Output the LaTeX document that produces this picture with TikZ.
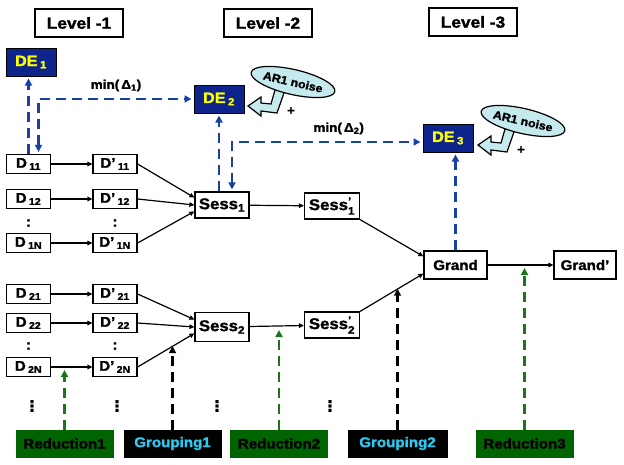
\documentclass[tikz,border=0pt]{standalone}
\usepackage{amsmath}
\usepackage{fontspec}
\setmainfont{Liberation Sans}[FakeStretch=1.08,BoldFeatures={FakeBold=1.6}]
\newfontfamily\dejavu{DejaVu Sans}[BoldFeatures={FakeBold=1.6}]
\usepackage{tikz}
\usetikzlibrary{arrows.meta,positioning,calc,shapes.geometric}
\definecolor{deblue}{RGB}{12,36,140}
\definecolor{deyellow}{RGB}{255,255,0}
\definecolor{dashblue}{RGB}{25,65,165}
\definecolor{noisecyan}{RGB}{196,234,238}
\definecolor{redgreen}{RGB}{0,100,0}
\definecolor{dashgreen}{RGB}{30,115,30}
\definecolor{grpcyan}{RGB}{45,200,240}
\newcommand{\fsz}[1]{\fontsize{#1}{#1}\selectfont\bfseries}
\tikzset{
  levelbox/.style={draw,line width=1.3pt,minimum width=88pt,minimum height=28pt,inner sep=0pt,font=\fsz{16}},
  debox/.style={draw=black,line width=1pt,fill=deblue,text=deyellow,minimum width=50pt,minimum height=28pt,inner sep=0pt,font=\fsz{15}},
  dbox/.style={draw,line width=1.2pt,minimum width=44pt,minimum height=19pt,inner sep=0pt,font=\fsz{14}},
  sessbox/.style={draw,line width=1.2pt,minimum width=54pt,minimum height=26pt,inner sep=0pt,font=\fsz{15.5}},
  grandbox/.style={draw,line width=1.2pt,minimum width=63pt,minimum height=28pt,inner sep=0pt,font=\fsz{14}},
  redbox/.style={draw=redgreen,fill=redgreen,text=black,minimum width=97pt,minimum height=27pt,inner sep=0pt,font=\fsz{14}},
  grpbox/.style={draw=black,fill=black,text=grpcyan,minimum width=97pt,minimum height=27pt,inner sep=0pt,font=\fsz{14}},
  noise/.style={ellipse,draw,line width=1.2pt,fill=noisecyan,rotate=-13,minimum width=72pt,minimum height=25pt,inner sep=0pt,font=\fsz{11.5}},
  callout/.style={draw,line width=1.2pt,fill=noisecyan,line join=miter},
  dotsnode/.style={inner sep=0pt,font=\fsz{14}},
  vdotsnode/.style={inner sep=0pt,font=\dejavu\fsz{15}},
  flow/.style={-{Triangle[length=5pt,width=4.5pt]},line width=1.2pt},
  bluedash/.style={draw=dashblue,line width=2.6pt,dash pattern=on 10pt off 6pt,shorten >=2pt},
  greendash/.style={draw=dashgreen,line width=2.6pt,dash pattern=on 10pt off 6pt,shorten >=3pt},
  blackdash/.style={draw=black,line width=2.6pt,dash pattern=on 10pt off 6pt}
}
\begin{document}
\begin{tikzpicture}[x=1pt,y=-1pt,>={Triangle[length=7pt,width=7pt]}]
  \useasboundingbox (0,0) rectangle (624,464);
  \node[levelbox] (lvl1) at (79,23) {Level -1};
  \node[levelbox] (lvl2) at (268,23) {Level -2};
  \node[levelbox] (lvl3) at (473,22) {Level -3};

  \node[debox] (de1) at (31,62) {DE\,\textsubscript{1}};
  \node[debox] (de2) at (219,99) {DE\,\textsubscript{2}};
  \node[debox] (de3) at (448,138) {DE\,\textsubscript{3}};

  \node[dbox] (d11) at (28.5,164) {D\,\textsubscript{11}};
  \node[dbox] (d12) at (28.5,199) {D\,\textsubscript{12}};
  \node[dbox] (d1n) at (28.5,243) {D\,\textsubscript{1N}};
  \node[dbox] (d21) at (28.5,294) {D\,\textsubscript{21}};
  \node[dbox] (d22) at (28.5,323) {D\,\textsubscript{22}};
  \node[dbox] (d2n) at (28.5,367) {D\,\textsubscript{2N}};
  \node[dbox] (dp11) at (115,164) {D'\,\textsubscript{11}};
  \node[dbox] (dp12) at (115,199) {D'\,\textsubscript{12}};
  \node[dbox] (dp1n) at (115,243) {D'\,\textsubscript{1N}};
  \node[dbox] (dp21) at (115,294) {D'\,\textsubscript{21}};
  \node[dbox] (dp22) at (115,323) {D'\,\textsubscript{22}};
  \node[dbox] (dp2n) at (115,367) {D'\,\textsubscript{2N}};
  \node[dotsnode] (c1) at (28.5,223) {:};
  \node[dotsnode] (c2) at (115,223) {:};
  \node[dotsnode] (c3) at (28.5,346) {:};
  \node[dotsnode] (c4) at (115,346) {:};

  \node[sessbox] (sess1) at (222,205) {Sess\textsubscript{1}};
  \node[sessbox,minimum height=29pt] (sess2) at (222,327) {Sess\textsubscript{2}};
  \node[sessbox,minimum width=55pt] (sess1p) at (332,206) {Sess$^{\textbf{'}}_{\textbf{1}}$};
  \node[sessbox,minimum width=55pt] (sess2p) at (332,325) {Sess$^{\textbf{'}}_{\textbf{2}}$};
  \node[grandbox] (grand) at (455.5,265) {Grand};
  \node[grandbox,minimum width=62pt] (grandp) at (585,265) {Grand'};

  \node[redbox] (red1) at (64.5,443.5) {Reduction1};
  \node[grpbox] (grp1) at (172.5,443.5) {Grouping1};
  \node[redbox] (red2) at (279,443.5) {Reduction2};
  \node[grpbox,minimum width=99pt] (grp2) at (397.5,443.5) {Grouping2};
  \node[redbox] (red3) at (524.5,443.5) {Reduction3};
  \node[vdotsnode] (v1) at (32,406) {⋮};
  \node[vdotsnode] (v2) at (117,406) {⋮};
  \node[vdotsnode] (v3) at (217,406) {⋮};
  \node[vdotsnode] (v4) at (330,406) {⋮};

  \draw[callout,shift={(293,82)}] (-45,24) -- (-32,15) -- (-32,21) -- (-22,22)
    -- (-18,8) -- (-8,8) -- (-16,31) -- (-32,29) -- (-32,34) -- cycle;
  \node[noise] (ar1) at (293,82) {AR1 noise};
  \node[font=\fsz{12}] (plus1) at (291,111) {+};
  \draw[callout,shift={(523,121)}] (-45,24) -- (-32,15) -- (-32,21) -- (-22,22)
    -- (-18,8) -- (-8,8) -- (-16,31) -- (-32,29) -- (-32,34) -- cycle;
  \node[noise] (ar2) at (523,121) {AR1 noise};
  \node[font=\fsz{12}] (plus2) at (521,150) {+};

  \foreach \r in {11,12,1n,21,22,2n}
    \draw[flow] (d\r) -- (dp\r);
  \draw[flow] (dp11.east) -- (sess1.165);
  \draw[flow] (dp12.east) -- (sess1.180);
  \draw[flow] (dp1n.east) -- (sess1.193);
  \draw[flow] (dp21.east) -- (sess2.165);
  \draw[flow] (dp22.east) -- (sess2.180);
  \draw[flow] (dp2n.east) -- (sess2.193);
  \draw[flow] (sess1) -- (sess1p);
  \draw[flow] (sess2) -- (sess2p);
  \draw[flow] (sess1p.south east) -- (grand.165);
  \draw[flow] (sess2p.north east) -- (grand.195);
  \draw[flow] (grand) -- (grandp);

  \draw[bluedash,->] (d11.north) -- (d11.north |- de1.south);
  \draw[bluedash,<->,shorten <=2pt] ($(d11.north)+(10,0)$) |- (de2.west)
    node[pos=0.75,above=3pt,text=black,font=\fsz{12.5}] {min(\,Δ\textsubscript{1})};
  \draw[bluedash,->] (sess1.north -| de2.south) -- (de2.south);
  \draw[bluedash,<->,shorten <=2pt] ($(sess1.north)+(10,0)$) |- ($(de3.west)+(0,4)$)
    node[pos=0.78,above=3pt,text=black,font=\fsz{12.5}] {min(\,Δ\textsubscript{2})};
  \draw[bluedash,->] (grand.north) -- (grand.north |- de3.south);

  \coordinate (g1) at ($(dp2n.east)!0.62!(sess2.193)$);
  \coordinate (g2) at ($(sess2p.north east)!0.6!(grand.195)$);
  \draw[greendash,->] (red1.north) -- (red1.north |- d2n.east);
  \draw[blackdash,->] (grp1.north) -- (grp1.north |- g1);
  \draw[greendash,->] (red2.north) -- (red2.north |- sess2.east);
  \draw[blackdash,->] (grp2.north) -- (grp2.north |- g2);
  \draw[greendash,->] (red3.north) -- (red3.north |- grand.east);
\end{tikzpicture}
\end{document}
